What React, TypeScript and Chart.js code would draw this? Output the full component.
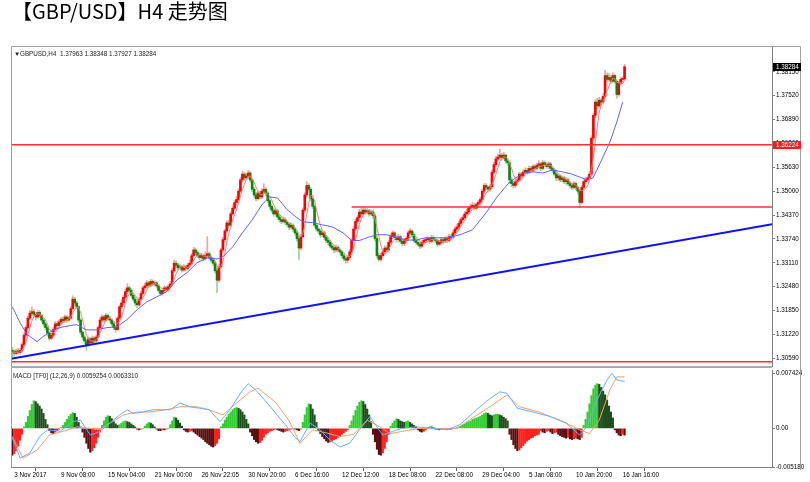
import React, { useEffect, useRef } from "react";
import { Chart, registerables } from "chart.js";

Chart.register(...registerables);

const titleText = "【GBP/USD】H4 走势图";
const infoText = "GBPUSD,H4  1.37963 1.38348 1.37927 1.38284";
const macdText = "MACD [TF0] (12,26,9) 0.0059254 0.0063310";

const xTickIdx = [0, 24, 48, 72, 96, 120, 144, 168, 192, 216, 240, 264, 288, 312];
const xTickLabels = ["3 Nov 2017", "9 Nov 08:00", "15 Nov 04:00", "21 Nov 00:00", "26 Nov 22:05", "30 Nov 20:00", "6 Dec 16:00", "12 Dec 12:00", "18 Dec 08:00", "22 Dec 08:00", "29 Dec 04:00", "5 Jan 08:00", "10 Jan 20:00", "16 Jan 16:00"];
const priceTicks = [1.3059, 1.3122, 1.3185, 1.3248, 1.3311, 1.3374, 1.3437, 1.35, 1.3563, 1.3626, 1.3689, 1.3752, 1.3815];
const macdTicks = [-0.00518, 0, 0.007424];
const macdTickLabels = ["-0.005180", "0.00", "0.007424"];

const opens = [
1.3080, 1.3076, 1.3072, 1.3078, 1.3074, 1.3080, 1.3095, 1.3120, 1.3140, 1.3165,
1.3178, 1.3182, 1.3175, 1.3168, 1.3180, 1.3172, 1.3160, 1.3150, 1.3140, 1.3125,
1.3112, 1.3120, 1.3135, 1.3150, 1.3145, 1.3155, 1.3162, 1.3158, 1.3168, 1.3160,
1.3165, 1.3190, 1.3215, 1.3205, 1.3195, 1.3160, 1.3128, 1.3115, 1.3105, 1.3095,
1.3110, 1.3100, 1.3112, 1.3105, 1.3115, 1.3140, 1.3160, 1.3168, 1.3160, 1.3172,
1.3165, 1.3160, 1.3150, 1.3140, 1.3135, 1.3165, 1.3195, 1.3205, 1.3220, 1.3235,
1.3245, 1.3238, 1.3225, 1.3215, 1.3205, 1.3200, 1.3215, 1.3230, 1.3245, 1.3250,
1.3258, 1.3252, 1.3262, 1.3255, 1.3258, 1.3250, 1.3238, 1.3230, 1.3238, 1.3245,
1.3240, 1.3248, 1.3255, 1.3290, 1.3310, 1.3305, 1.3298, 1.3300, 1.3292, 1.3300,
1.3296, 1.3305, 1.3310, 1.3330, 1.3345, 1.3338, 1.3330, 1.3325, 1.3330, 1.3322,
1.3330, 1.3335, 1.3325, 1.3318, 1.3310, 1.3290, 1.3265, 1.3300, 1.3345, 1.3372,
1.3395, 1.3416, 1.3410, 1.3440, 1.3455, 1.3470, 1.3478, 1.3500, 1.3530, 1.3545,
1.3535, 1.3540, 1.3548, 1.3530, 1.3505, 1.3490, 1.3480, 1.3495, 1.3485, 1.3500,
1.3505, 1.3495, 1.3475, 1.3460, 1.3450, 1.3440, 1.3448, 1.3432, 1.3425, 1.3420,
1.3425, 1.3418, 1.3412, 1.3405, 1.3410, 1.3400, 1.3390, 1.3375, 1.3350, 1.3380,
1.3450, 1.3490, 1.3515, 1.3505, 1.3480, 1.3460, 1.3410, 1.3400, 1.3395, 1.3385,
1.3390, 1.3378, 1.3370, 1.3365, 1.3355, 1.3350, 1.3345, 1.3352, 1.3345, 1.3340,
1.3330, 1.3322, 1.3318, 1.3325, 1.3340, 1.3370, 1.3400, 1.3420, 1.3430, 1.3445,
1.3440, 1.3450, 1.3445, 1.3448, 1.3440, 1.3445, 1.3435, 1.3375, 1.3330, 1.3320,
1.3330, 1.3340, 1.3350, 1.3345, 1.3365, 1.3380, 1.3390, 1.3378, 1.3372, 1.3380,
1.3368, 1.3362, 1.3370, 1.3375, 1.3390, 1.3395, 1.3385, 1.3370, 1.3365, 1.3360,
1.3355, 1.3365, 1.3370, 1.3372, 1.3375, 1.3368, 1.3378, 1.3372, 1.3370, 1.3360,
1.3365, 1.3372, 1.3368, 1.3375, 1.3370, 1.3380, 1.3378, 1.3390, 1.3400, 1.3405,
1.3415, 1.3425, 1.3430, 1.3440, 1.3445, 1.3455, 1.3460, 1.3462, 1.3455, 1.3465,
1.3470, 1.3478, 1.3500, 1.3515, 1.3510, 1.3505, 1.3512, 1.3550, 1.3570, 1.3585,
1.3590, 1.3595, 1.3588, 1.3595, 1.3580, 1.3575, 1.3530, 1.3520, 1.3515, 1.3525,
1.3530, 1.3545, 1.3540, 1.3550, 1.3555, 1.3550, 1.3560, 1.3555, 1.3565, 1.3560,
1.3568, 1.3572, 1.3560, 1.3575, 1.3570, 1.3565, 1.3572, 1.3560, 1.3555, 1.3545,
1.3535, 1.3540, 1.3530, 1.3535, 1.3525, 1.3530, 1.3520, 1.3515, 1.3510, 1.3520,
1.3510, 1.3500, 1.3470, 1.3510, 1.3525, 1.3530, 1.3535, 1.3545, 1.3640, 1.3700,
1.3735, 1.3725, 1.3740, 1.3735, 1.3750, 1.3805, 1.3795, 1.3800, 1.3790, 1.3805,
1.3790, 1.3755, 1.3785, 1.3795, 1.37963
];

const highs = [
1.3088, 1.3082, 1.3084, 1.3086, 1.3085, 1.3100, 1.3126, 1.3146, 1.3170, 1.3186,
1.3195, 1.3188, 1.3180, 1.3186, 1.3184, 1.3176, 1.3164, 1.3154, 1.3144, 1.3128,
1.3126, 1.3140, 1.3156, 1.3156, 1.3160, 1.3168, 1.3168, 1.3174, 1.3172, 1.3170,
1.3196, 1.3224, 1.3220, 1.3210, 1.3198, 1.3164, 1.3132, 1.3120, 1.3110, 1.3116,
1.3114, 1.3118, 1.3116, 1.3120, 1.3145, 1.3166, 1.3174, 1.3172, 1.3178, 1.3176,
1.3170, 1.3164, 1.3155, 1.3146, 1.3170, 1.3200, 1.3212, 1.3226, 1.3242, 1.3256,
1.3250, 1.3242, 1.3230, 1.3220, 1.3210, 1.3220, 1.3236, 1.3250, 1.3258, 1.3265,
1.3262, 1.3268, 1.3266, 1.3264, 1.3262, 1.3254, 1.3242, 1.3244, 1.3250, 1.3250,
1.3254, 1.3262, 1.3296, 1.3318, 1.3316, 1.3310, 1.3306, 1.3304, 1.3306, 1.3304,
1.3310, 1.3318, 1.3336, 1.3352, 1.3350, 1.3342, 1.3336, 1.3336, 1.3334, 1.3340,
1.3380, 1.3340, 1.3330, 1.3322, 1.3314, 1.3296, 1.3306, 1.3350, 1.3378, 1.3400,
1.3422, 1.3424, 1.3446, 1.3462, 1.3476, 1.3486, 1.3506, 1.3536, 1.3552, 1.3550,
1.3548, 1.3555, 1.3552, 1.3534, 1.3510, 1.3496, 1.3500, 1.3500, 1.3506, 1.3520,
1.3510, 1.3498, 1.3480, 1.3466, 1.3456, 1.3454, 1.3452, 1.3438, 1.3430, 1.3432,
1.3430, 1.3422, 1.3416, 1.3416, 1.3414, 1.3404, 1.3394, 1.3380, 1.3386, 1.3456,
1.3496, 1.3525, 1.3520, 1.3510, 1.3486, 1.3466, 1.3416, 1.3406, 1.3400, 1.3396,
1.3394, 1.3384, 1.3376, 1.3370, 1.3362, 1.3356, 1.3358, 1.3356, 1.3350, 1.3344,
1.3334, 1.3328, 1.3330, 1.3346, 1.3376, 1.3406, 1.3426, 1.3436, 1.3452, 1.3456,
1.3458, 1.3456, 1.3454, 1.3452, 1.3450, 1.3450, 1.3440, 1.3380, 1.3336, 1.3336,
1.3346, 1.3356, 1.3356, 1.3370, 1.3386, 1.3396, 1.3394, 1.3384, 1.3386, 1.3384,
1.3374, 1.3376, 1.3380, 1.3396, 1.3402, 1.3398, 1.3390, 1.3376, 1.3370, 1.3364,
1.3370, 1.3376, 1.3378, 1.3380, 1.3378, 1.3384, 1.3382, 1.3378, 1.3374, 1.3370,
1.3378, 1.3376, 1.3380, 1.3380, 1.3386, 1.3386, 1.3396, 1.3406, 1.3412, 1.3420,
1.3430, 1.3436, 1.3446, 1.3452, 1.3460, 1.3466, 1.3470, 1.3468, 1.3470, 1.3476,
1.3484, 1.3506, 1.3520, 1.3520, 1.3514, 1.3518, 1.3556, 1.3576, 1.3592, 1.3598,
1.3611, 1.3600, 1.3602, 1.3598, 1.3586, 1.3580, 1.3536, 1.3526, 1.3530, 1.3536,
1.3550, 1.3550, 1.3556, 1.3562, 1.3560, 1.3566, 1.3566, 1.3570, 1.3570, 1.3574,
1.3580, 1.3576, 1.3582, 1.3580, 1.3576, 1.3578, 1.3576, 1.3566, 1.3560, 1.3550,
1.3546, 1.3544, 1.3540, 1.3540, 1.3536, 1.3534, 1.3526, 1.3520, 1.3526, 1.3524,
1.3514, 1.3504, 1.3516, 1.3530, 1.3536, 1.3540, 1.3552, 1.3646, 1.3706, 1.3742,
1.3745, 1.3748, 1.3746, 1.3758, 1.3819, 1.3812, 1.3810, 1.3806, 1.3812, 1.3808,
1.3794, 1.3790, 1.3800, 1.3802, 1.38348
];

const lows = [
1.3062, 1.3064, 1.3068, 1.3070, 1.3070, 1.3076, 1.3092, 1.3115, 1.3136, 1.3160,
1.3172, 1.3170, 1.3160, 1.3164, 1.3166, 1.3155, 1.3144, 1.3134, 1.3118, 1.3106,
1.3108, 1.3116, 1.3130, 1.3140, 1.3140, 1.3150, 1.3152, 1.3154, 1.3154, 1.3156,
1.3162, 1.3186, 1.3198, 1.3190, 1.3154, 1.3122, 1.3108, 1.3098, 1.3080, 1.3090,
1.3094, 1.3096, 1.3100, 1.3100, 1.3112, 1.3136, 1.3155, 1.3154, 1.3156, 1.3160,
1.3154, 1.3145, 1.3134, 1.3128, 1.3132, 1.3160, 1.3190, 1.3200, 1.3216, 1.3230,
1.3232, 1.3220, 1.3210, 1.3198, 1.3192, 1.3196, 1.3210, 1.3226, 1.3240, 1.3245,
1.3246, 1.3248, 1.3250, 1.3250, 1.3244, 1.3232, 1.3224, 1.3226, 1.3232, 1.3234,
1.3236, 1.3244, 1.3252, 1.3286, 1.3298, 1.3292, 1.3292, 1.3286, 1.3288, 1.3290,
1.3292, 1.3300, 1.3306, 1.3326, 1.3332, 1.3324, 1.3318, 1.3320, 1.3316, 1.3318,
1.3326, 1.3320, 1.3312, 1.3304, 1.3284, 1.3232, 1.3260, 1.3296, 1.3340, 1.3366,
1.3390, 1.3404, 1.3406, 1.3436, 1.3450, 1.3462, 1.3474, 1.3496, 1.3524, 1.3528,
1.3530, 1.3534, 1.3524, 1.3500, 1.3484, 1.3474, 1.3476, 1.3480, 1.3480, 1.3496,
1.3488, 1.3470, 1.3454, 1.3444, 1.3434, 1.3436, 1.3426, 1.3418, 1.3414, 1.3416,
1.3412, 1.3406, 1.3398, 1.3400, 1.3394, 1.3384, 1.3368, 1.3320, 1.3344, 1.3376,
1.3444, 1.3484, 1.3498, 1.3474, 1.3454, 1.3404, 1.3394, 1.3388, 1.3378, 1.3380,
1.3372, 1.3364, 1.3358, 1.3350, 1.3344, 1.3338, 1.3340, 1.3340, 1.3334, 1.3324,
1.3316, 1.3310, 1.3312, 1.3320, 1.3336, 1.3366, 1.3396, 1.3414, 1.3426, 1.3434,
1.3436, 1.3440, 1.3440, 1.3434, 1.3436, 1.3428, 1.3368, 1.3324, 1.3315, 1.3316,
1.3326, 1.3334, 1.3338, 1.3340, 1.3360, 1.3374, 1.3372, 1.3366, 1.3366, 1.3362,
1.3356, 1.3356, 1.3364, 1.3370, 1.3386, 1.3380, 1.3364, 1.3360, 1.3354, 1.3348,
1.3350, 1.3360, 1.3364, 1.3366, 1.3362, 1.3364, 1.3366, 1.3364, 1.3354, 1.3356,
1.3360, 1.3362, 1.3364, 1.3364, 1.3366, 1.3372, 1.3374, 1.3386, 1.3394, 1.3400,
1.3410, 1.3420, 1.3426, 1.3436, 1.3440, 1.3450, 1.3454, 1.3450, 1.3450, 1.3460,
1.3464, 1.3474, 1.3494, 1.3504, 1.3498, 1.3500, 1.3508, 1.3546, 1.3564, 1.3580,
1.3584, 1.3582, 1.3584, 1.3574, 1.3568, 1.3520, 1.3512, 1.3508, 1.3510, 1.3518,
1.3526, 1.3534, 1.3536, 1.3546, 1.3544, 1.3546, 1.3550, 1.3550, 1.3554, 1.3556,
1.3562, 1.3554, 1.3556, 1.3564, 1.3560, 1.3560, 1.3554, 1.3550, 1.3540, 1.3528,
1.3528, 1.3524, 1.3524, 1.3520, 1.3518, 1.3514, 1.3508, 1.3504, 1.3506, 1.3504,
1.3494, 1.3457, 1.3466, 1.3504, 1.3520, 1.3524, 1.3530, 1.3540, 1.3634, 1.3694,
1.3718, 1.3720, 1.3728, 1.3730, 1.3746, 1.3788, 1.3790, 1.3784, 1.3786, 1.3784,
1.3745, 1.3750, 1.3780, 1.3788, 1.37927
];

const closes = [
1.3076, 1.3072, 1.3078, 1.3074, 1.3080, 1.3095, 1.3120, 1.3140, 1.3165, 1.3178,
1.3182, 1.3175, 1.3168, 1.3180, 1.3172, 1.3160, 1.3150, 1.3140, 1.3125, 1.3112,
1.3120, 1.3135, 1.3150, 1.3145, 1.3155, 1.3162, 1.3158, 1.3168, 1.3160, 1.3165,
1.3190, 1.3215, 1.3205, 1.3195, 1.3160, 1.3128, 1.3115, 1.3105, 1.3095, 1.3110,
1.3100, 1.3112, 1.3105, 1.3115, 1.3140, 1.3160, 1.3168, 1.3160, 1.3172, 1.3165,
1.3160, 1.3150, 1.3140, 1.3135, 1.3165, 1.3195, 1.3205, 1.3220, 1.3235, 1.3245,
1.3238, 1.3225, 1.3215, 1.3205, 1.3200, 1.3215, 1.3230, 1.3245, 1.3250, 1.3258,
1.3252, 1.3262, 1.3255, 1.3258, 1.3250, 1.3238, 1.3230, 1.3238, 1.3245, 1.3240,
1.3248, 1.3255, 1.3290, 1.3310, 1.3305, 1.3298, 1.3300, 1.3292, 1.3300, 1.3296,
1.3305, 1.3310, 1.3330, 1.3345, 1.3338, 1.3330, 1.3325, 1.3330, 1.3322, 1.3330,
1.3335, 1.3325, 1.3318, 1.3310, 1.3290, 1.3265, 1.3300, 1.3345, 1.3372, 1.3395,
1.3416, 1.3410, 1.3440, 1.3455, 1.3470, 1.3478, 1.3500, 1.3530, 1.3545, 1.3535,
1.3540, 1.3548, 1.3530, 1.3505, 1.3490, 1.3480, 1.3495, 1.3485, 1.3500, 1.3505,
1.3495, 1.3475, 1.3460, 1.3450, 1.3440, 1.3448, 1.3432, 1.3425, 1.3420, 1.3425,
1.3418, 1.3412, 1.3405, 1.3410, 1.3400, 1.3390, 1.3375, 1.3350, 1.3380, 1.3450,
1.3490, 1.3515, 1.3505, 1.3480, 1.3460, 1.3410, 1.3400, 1.3395, 1.3385, 1.3390,
1.3378, 1.3370, 1.3365, 1.3355, 1.3350, 1.3345, 1.3352, 1.3345, 1.3340, 1.3330,
1.3322, 1.3318, 1.3325, 1.3340, 1.3370, 1.3400, 1.3420, 1.3430, 1.3445, 1.3440,
1.3450, 1.3445, 1.3448, 1.3440, 1.3445, 1.3435, 1.3375, 1.3330, 1.3320, 1.3330,
1.3340, 1.3350, 1.3345, 1.3365, 1.3380, 1.3390, 1.3378, 1.3372, 1.3380, 1.3368,
1.3362, 1.3370, 1.3375, 1.3390, 1.3395, 1.3385, 1.3370, 1.3365, 1.3360, 1.3355,
1.3365, 1.3370, 1.3372, 1.3375, 1.3368, 1.3378, 1.3372, 1.3370, 1.3360, 1.3365,
1.3372, 1.3368, 1.3375, 1.3370, 1.3380, 1.3378, 1.3390, 1.3400, 1.3405, 1.3415,
1.3425, 1.3430, 1.3440, 1.3445, 1.3455, 1.3460, 1.3462, 1.3455, 1.3465, 1.3470,
1.3478, 1.3500, 1.3515, 1.3510, 1.3505, 1.3512, 1.3550, 1.3570, 1.3585, 1.3590,
1.3595, 1.3588, 1.3595, 1.3580, 1.3575, 1.3530, 1.3520, 1.3515, 1.3525, 1.3530,
1.3545, 1.3540, 1.3550, 1.3555, 1.3550, 1.3560, 1.3555, 1.3565, 1.3560, 1.3568,
1.3572, 1.3560, 1.3575, 1.3570, 1.3565, 1.3572, 1.3560, 1.3555, 1.3545, 1.3535,
1.3540, 1.3530, 1.3535, 1.3525, 1.3530, 1.3520, 1.3515, 1.3510, 1.3520, 1.3510,
1.3500, 1.3470, 1.3510, 1.3525, 1.3530, 1.3535, 1.3545, 1.3640, 1.3700, 1.3735,
1.3725, 1.3740, 1.3735, 1.3750, 1.3805, 1.3795, 1.3800, 1.3790, 1.3805, 1.3790,
1.3755, 1.3785, 1.3795, 1.37963, 1.38284
];

// slow moving average (blue) at its vertices
const maBlueIdx = [0, 4, 7.5, 12.7, 15.7, 21, 26, 33, 38, 43, 48.5, 53.7, 58.8, 64, 69, 74, 79, 84.5, 89.6, 94.7, 100, 105, 108, 113, 118, 123, 128, 132, 136, 141, 146, 149, 154, 159, 164, 169.6, 174, 178, 183, 187, 192, 197, 202, 207, 212, 218, 223, 229.6, 236, 243, 248.6, 255, 262, 267, 272, 277, 282, 287, 294.7, 297.8, 301, 306.5, 310, 313];
const maBlue = [1.3195, 1.3153, 1.3122, 1.3103, 1.3116, 1.3134, 1.3142, 1.3148, 1.3134, 1.3134, 1.3140, 1.3142, 1.3161, 1.3187, 1.3208, 1.3221, 1.3234, 1.3266, 1.3285, 1.3311, 1.3324, 1.3321, 1.3327, 1.3353, 1.3390, 1.3424, 1.3464, 1.3485, 1.3482, 1.3451, 1.3430, 1.3419, 1.3417, 1.3411, 1.3406, 1.3390, 1.3370, 1.3370, 1.3379, 1.3385, 1.3385, 1.3379, 1.3371, 1.3371, 1.3377, 1.3377, 1.3377, 1.3385, 1.3398, 1.3443, 1.3485, 1.3524, 1.3548, 1.3551, 1.3548, 1.3556, 1.3551, 1.3545, 1.3530, 1.3535, 1.3569, 1.3630, 1.3682, 1.3735];
const maRedPeriod = 5;

const levelPrice = 1.36224;
const lastPrice = 1.38284;
const supportPrice = 1.3458;
const supportStartIdx = 174;
const bottomLevel = 1.30498;
const trendIdx = [-0.67, 389.6];
const trendVal = [1.30575, 1.34125];

const macdHist = [
-0.0036, -0.0034, -0.0030, -0.0024, -0.0016, -0.0008,
0.0002, 0.0008, 0.0016, 0.0024, 0.0032, 0.0037, 0.0036, 0.0033, 0.0030, 0.0026, 0.0020, 0.0012, 0.0005,
-0.0003, -0.0006, -0.0007, -0.0005, -0.0003, -0.0001,
0.0001, 0.0004, 0.0008, 0.0012, 0.0016, 0.0019, 0.0021, 0.0020, 0.0015, 0.0008, 0.0002,
-0.0005, -0.0012, -0.0020, -0.0027, -0.0032, -0.0030, -0.0026, -0.0020, -0.0012, -0.0005,
0.0004, 0.0010, 0.0015, 0.0017, 0.0016, 0.0013, 0.0009, 0.0006, 0.0004,
0.0005, 0.0007, 0.0009, 0.0010, 0.0009, 0.0008, 0.0006, 0.0004, 0.0002,
-0.0001, -0.0002, -0.0001, 0.0000,
0.0003, 0.0006, 0.0008, 0.0007, 0.0005, 0.0002,
-0.0001, -0.0003, -0.0003, -0.0002, -0.0002, -0.0001, 0.0000,
0.0005, 0.0010, 0.0015, 0.0014, 0.0011, 0.0007, 0.0003,
-0.0002, -0.0004, -0.0005, -0.0004, -0.0003, -0.0005,
-0.0007, -0.0009, -0.0011, -0.0013, -0.0015, -0.0018, -0.0020, -0.0022, -0.0024, -0.0025, -0.0023, -0.0020, -0.0014,
0.0002, 0.0006, 0.0011, 0.0015, 0.0019, 0.0022, 0.0025, 0.0027, 0.0028, 0.0027, 0.0025, 0.0022, 0.0018, 0.0012, 0.0006,
-0.0005, -0.0010, -0.0015, -0.0018, -0.0020, -0.0019, -0.0016, -0.0012, -0.0008,
-0.0006, -0.0004, -0.0003, -0.0002, -0.0001, -0.0002, -0.0003, -0.0004, -0.0005, -0.0004, -0.0003, -0.0002, -0.0001, 0.0000, -0.0001, -0.0002,
-0.0003, -0.0001,
0.0008, 0.0018, 0.0028, 0.0033, 0.0032, 0.0026, 0.0018, 0.0008,
-0.0003, -0.0007, -0.0011, -0.0014, -0.0017, -0.0019, -0.0018, -0.0017, -0.0015, -0.0014, -0.0012, -0.0010, -0.0008, -0.0006, -0.0004, -0.0002,
0.0004, 0.0010, 0.0017, 0.0024, 0.0030, 0.0035, 0.0037, 0.0036, 0.0032, 0.0026, 0.0018, 0.0009,
-0.0008, -0.0018, -0.0028, -0.0035, -0.0036, -0.0033, -0.0027, -0.0018, -0.0008,
0.0003, 0.0007, 0.0010, 0.0013, 0.0012, 0.0010, 0.0009, 0.0008, 0.0009, 0.0010, 0.0008, 0.0006, 0.0004, 0.0002,
-0.0002, -0.0004, -0.0005, -0.0004, -0.0002,
0.0001, 0.0002, 0.0003, 0.0001,
-0.0001, -0.0001, -0.0002, -0.0001, -0.0001, 0.0000, -0.0001, -0.0001, -0.0001, 0.0000, 0.0000, 0.0001,
0.0002, 0.0003, 0.0005, 0.0006, 0.0008, 0.0009, 0.0010, 0.0012, 0.0013, 0.0014, 0.0015, 0.0016, 0.0018, 0.0020, 0.0021, 0.0020, 0.0018, 0.0017, 0.0018, 0.0019, 0.0019, 0.0018,
0.0017, 0.0015, 0.0013, 0.0010,
-0.0008, -0.0015, -0.0022, -0.0027, -0.0030, -0.0029, -0.0026, -0.0023, -0.0020, -0.0017, -0.0015, -0.0013, -0.0012, -0.0010, -0.0009, -0.0008,
-0.0003, -0.0005, -0.0006, -0.0004, -0.0003, -0.0005, -0.0007, -0.0006, -0.0005, -0.0008, -0.0010, -0.0011, -0.0012, -0.0013, -0.0012, -0.0014, -0.0015, -0.0014, -0.0013, -0.0014, -0.0015, -0.0012,
0.0004, 0.0012, 0.0022, 0.0033, 0.0044, 0.0053, 0.0058, 0.0060, 0.0059, 0.0055, 0.0050, 0.0045, 0.0038, 0.0030, 0.0022, 0.0014,
-0.0002, -0.0006, -0.0009, -0.0010, -0.0008, -0.0009
];

const macdBlueIdx = [0, 4, 9, 14, 18, 24.5, 31, 35, 40, 45, 50, 55, 59, 62, 67, 72, 81, 86, 91, 96, 101, 106.5, 111.6, 118, 121, 125, 132, 140, 145, 147.5, 152.7, 157.8, 163, 168, 173, 178, 183.4, 187, 190, 195, 200, 207, 216, 223, 229.6, 236, 243, 250, 253.7, 259, 267, 275.7, 284, 291, 294.7, 299.8, 305, 307.5, 310, 314];
const macdBlue = [-0.0013, -0.0040, -0.0033, -0.0011, -0.0002, -0.0004, 0.0009, 0.0011, -0.0009, -0.0004, 0.0007, 0.0018, 0.0025, 0.0020, 0.0022, 0.0025, 0.0025, 0.0034, 0.0029, 0.0027, 0.0025, 0.0009, 0.0025, 0.0051, 0.0060, 0.0051, 0.0030, 0.0005, -0.0012, -0.0018, 0.0007, -0.0002, -0.0016, -0.0025, -0.0020, -0.0002, 0.0016, 0.0002, -0.0009, -0.0004, 0.0000, 0.0002, 0.0000, -0.0002, 0.0005, 0.0020, 0.0036, 0.0049, 0.0047, 0.0027, 0.0022, 0.0016, 0.0007, -0.0009, 0.0002, 0.0038, 0.0065, 0.0074, 0.0065, 0.0063];
const macdOrangeIdx = [0, 5.5, 12.7, 19, 26, 33, 40, 45, 50, 57, 64, 70.6, 79, 86, 94.7, 101, 108, 115, 122, 126, 135, 142, 147.5, 154, 161, 168, 175, 182, 188.6, 193.7, 200, 209, 219, 228, 236, 245, 253.7, 260, 270, 281, 291, 296, 301, 306.5, 310, 314];
const macdOrange = [-0.0011, -0.0040, -0.0029, -0.0009, -0.0004, 0.0002, 0.0000, -0.0002, 0.0007, 0.0018, 0.0022, 0.0022, 0.0025, 0.0029, 0.0029, 0.0025, 0.0018, 0.0034, 0.0049, 0.0054, 0.0035, 0.0010, -0.0020, -0.0002, -0.0006, -0.0011, -0.0008, 0.0011, 0.0002, -0.0007, -0.0004, 0.0000, 0.0000, 0.0000, 0.0014, 0.0029, 0.0045, 0.0029, 0.0022, 0.0011, -0.0002, -0.0007, 0.0011, 0.0052, 0.0069, 0.0069];

// layout constants
const X_MIN = -0.67;
const X_MAX = 389.6;
const P_MIN = 1.30387;
const P_MAX = 1.38804;
const M_MIN = -0.00518;
const M_MAX = 0.00783;
const FONT = "Liberation Sans";
const SMALL = 6.3;

function smaSeries(values: number[], period: number) {
  return values.map((_, i) => {
    const start = Math.max(0, i - period + 1);
    let s = 0;
    for (let k = start; k <= i; k++) s += values[k];
    return { x: i, y: s / (i - start + 1) };
  });
}

const mainDecor = {
  id: "mainDecor",
  afterDraw(chart: any) {
    const { ctx, chartArea: a, scales } = chart;
    ctx.save();
    ctx.strokeStyle = "#a0a0a0";
    ctx.lineWidth = 1;
    ctx.beginPath();
    ctx.moveTo(a.left + 0.5, 368);
    ctx.lineTo(a.left + 0.5, a.top - 0.5);
    ctx.lineTo(800.5, a.top - 0.5);
    ctx.lineTo(800.5, 368);
    ctx.stroke();
    ctx.fillStyle = "#a8a8a8";
    ctx.fillRect(a.left, a.bottom, a.right - a.left, 2);

    ctx.fillStyle = "#000";
    ctx.textBaseline = "alphabetic";
    ctx.textAlign = "left";
    ctx.font = '20px "Noto Sans CJK SC"';
    ctx.fillText(titleText, 12, 19);

    ctx.font = `${SMALL}px "${FONT}"`;
    ctx.fillStyle = "#222";
    ctx.fillText("\u25BC", 14, 55.5);
    ctx.fillText(infoText, 20, 55.5);

    const yS = scales.y;
    const box = (p: number, bg: string) => {
      const y = yS.getPixelForValue(p);
      ctx.fillStyle = bg;
      ctx.fillRect(773, Math.round(y) - 4, 28, 8);
      ctx.fillStyle = "#fff";
      ctx.textBaseline = "middle";
      ctx.font = `${SMALL}px "${FONT}"`;
      ctx.fillText(p.toFixed(5), 776, Math.round(y) + 0.5);
    };
    box(lastPrice, "#000");
    box(levelPrice, "#ff1a1a");
    ctx.restore();
  },
};

const macdDecor = {
  id: "macdDecor",
  afterDraw(chart: any) {
    const { ctx, chartArea: a } = chart;
    ctx.save();
    ctx.strokeStyle = "#a0a0a0";
    ctx.lineWidth = 1;
    ctx.beginPath();
    ctx.moveTo(a.left + 0.5, a.bottom);
    ctx.lineTo(a.left + 0.5, 0);
    ctx.moveTo(800.5, 0);
    ctx.lineTo(800.5, a.bottom + 3);
    ctx.stroke();
    ctx.fillStyle = "#222";
    ctx.textBaseline = "alphabetic";
    ctx.font = `${SMALL}px "${FONT}"`;
    ctx.fillText(macdText, 13, 9.5);
    ctx.restore();
  },
};

function mainConfig(): any {
  const up = (i: number) => closes[i] >= opens[i];
  return {
    type: "bar",
    data: {
      datasets: [
        {
          type: "line",
          label: "trend",
          data: trendIdx.map((x, i) => ({ x, y: trendVal[i] })),
          borderColor: "#1010ff",
          borderWidth: 2,
          pointRadius: 0,
          order: 1,
        },
        {
          type: "line",
          label: "level",
          data: [{ x: X_MIN, y: levelPrice }, { x: X_MAX, y: levelPrice }],
          borderColor: "#ff3030",
          borderWidth: 1.5,
          pointRadius: 0,
          order: 1,
        },
        {
          type: "line",
          label: "support",
          data: [{ x: supportStartIdx, y: supportPrice }, { x: X_MAX, y: supportPrice }],
          borderColor: "#ff3030",
          borderWidth: 1.5,
          pointRadius: 0,
          order: 1,
        },
        {
          type: "line",
          label: "bottom",
          data: [{ x: X_MIN, y: bottomLevel }, { x: X_MAX, y: bottomLevel }],
          borderColor: "#ff3030",
          borderWidth: 1.5,
          pointRadius: 0,
          order: 1,
        },
        {
          type: "line",
          label: "maBlue",
          data: maBlueIdx.map((x, i) => ({ x, y: maBlue[i] })),
          borderColor: "#6060ff",
          borderWidth: 1,
          pointRadius: 0,
          order: 3,
        },
        {
          type: "line",
          label: "maRed",
          data: smaSeries(closes, maRedPeriod),
          borderColor: "#ff7a7a",
          borderWidth: 1,
          pointRadius: 0,
          order: 3,
        },
        {
          type: "bar",
          label: "body",
          data: closes.map((c, i) => ({ x: i, y: [opens[i], c] })),
          backgroundColor: (ctx: any) => (up(ctx.dataIndex) ? "#ff0000" : "#0a870a"),
          barThickness: 2,
          minBarLength: 1,
          grouped: false,
          order: 8,
        },
        {
          type: "bar",
          label: "wick",
          data: highs.map((h, i) => ({ x: i, y: [lows[i], h] })),
          backgroundColor: (ctx: any) => (up(ctx.dataIndex) ? "#ff9d9d" : "#9ccf9c"),
          barThickness: 1,
          grouped: false,
          order: 9,
        },
      ],
    },
    options: {
      animation: false,
      responsive: false,
      maintainAspectRatio: false,
      layout: { padding: { left: 11, top: 47, right: 0, bottom: 2 } },
      plugins: { legend: { display: false }, tooltip: { enabled: false }, title: { display: false } },
      elements: { line: { tension: 0 } },
      scales: {
        x: { type: "linear", min: X_MIN, max: X_MAX, offset: false, display: false },
        y: {
          position: "right",
          min: P_MIN,
          max: P_MAX,
          afterBuildTicks: (s: any) => {
            s.ticks = priceTicks.map((v) => ({ value: v }));
          },
          afterFit: (s: any) => {
            s.width = 38;
            s.paddingTop = 0;
            s.paddingBottom = 0;
          },
          ticks: {
            callback: (v: any) => Number(v).toFixed(5),
            font: { family: FONT, size: SMALL },
            color: "#000",
            padding: 1,
            autoSkip: false,
          },
          grid: { drawOnChartArea: false, tickLength: 3, color: "#808080" },
          border: { display: true, color: "#808080" },
        },
      },
    },
    plugins: [mainDecor],
  };
}

function macdConfig(): any {
  return {
    type: "bar",
    data: {
      datasets: [
        {
          type: "line",
          label: "macd",
          data: macdBlueIdx.map((x, i) => ({ x, y: macdBlue[i] })),
          borderColor: "#6aaeff",
          borderWidth: 1,
          pointRadius: 0,
          order: 1,
        },
        {
          type: "line",
          label: "signal",
          data: macdOrangeIdx.map((x, i) => ({ x, y: macdOrange[i] })),
          borderColor: "#f0a070",
          borderWidth: 1,
          pointRadius: 0,
          order: 1,
        },
        {
          type: "bar",
          label: "hist",
          data: macdHist.map((v, i) => ({ x: i, y: v })),
          backgroundColor: (ctx: any) => {
            const i = ctx.dataIndex;
            const v = macdHist[i];
            const prev = i > 0 ? macdHist[i - 1] : v;
            if (v >= 0) return v >= prev ? "#33cc33" : "#1f4f1f";
            return v > prev ? "#ff2020" : "#5a1010";
          },
          barThickness: 1.5,
          grouped: false,
          order: 5,
        },
      ],
    },
    options: {
      animation: false,
      responsive: false,
      maintainAspectRatio: false,
      layout: { padding: { left: 11, top: 2, right: 0, bottom: 0 } },
      plugins: { legend: { display: false }, tooltip: { enabled: false } },
      elements: { line: { tension: 0 } },
      scales: {
        x: {
          type: "linear",
          min: X_MIN,
          max: X_MAX,
          offset: false,
          position: "bottom",
          afterBuildTicks: (s: any) => {
            s.ticks = xTickIdx.map((v) => ({ value: v }));
          },
          afterFit: (s: any) => {
            s.height = 15;
            s.paddingLeft = 0;
            s.paddingRight = 0;
          },
          ticks: {
            callback: (v: any) => {
              const k = xTickIdx.indexOf(Number(v));
              return k >= 0 ? xTickLabels[k] : "";
            },
            align: "start",
            labelOffset: 2,
            padding: 0,
            maxRotation: 0,
            minRotation: 0,
            autoSkip: false,
            font: { family: FONT, size: SMALL },
            color: "#000",
          },
          grid: { drawOnChartArea: false, tickLength: 4, color: "#606060" },
          border: { display: true, color: "#808080" },
        },
        y: {
          position: "right",
          min: M_MIN,
          max: M_MAX,
          afterBuildTicks: (s: any) => {
            s.ticks = macdTicks.map((v) => ({ value: v }));
          },
          afterFit: (s: any) => {
            s.width = 38;
            s.paddingTop = 0;
            s.paddingBottom = 0;
          },
          ticks: {
            callback: (_v: any, idx: number) => macdTickLabels[idx],
            font: { family: FONT, size: SMALL },
            color: "#000",
            padding: 1,
            autoSkip: false,
          },
          grid: { drawOnChartArea: false, tickLength: 3, color: "#808080" },
          border: { display: true, color: "#808080" },
        },
      },
    },
    plugins: [macdDecor],
  };
}

export default function App() {
  const mainRef = useRef<HTMLCanvasElement>(null);
  const macdRef = useRef<HTMLCanvasElement>(null);
  useEffect(() => {
    const c1 = new Chart(mainRef.current as HTMLCanvasElement, mainConfig());
    const c2 = new Chart(macdRef.current as HTMLCanvasElement, macdConfig());
    return () => {
      c1.destroy();
      c2.destroy();
    };
  }, []);
  return (
    <div style={{ position: "fixed", left: 0, top: 0, width: 810, height: 482, background: "#fff", overflow: "hidden" }}>
      <canvas ref={mainRef} width={810} height={368} style={{ position: "absolute", left: 0, top: 0, width: 810, height: 368 }} />
      <canvas ref={macdRef} width={810} height={114} style={{ position: "absolute", left: 0, top: 368, width: 810, height: 114 }} />
    </div>
  );
}
